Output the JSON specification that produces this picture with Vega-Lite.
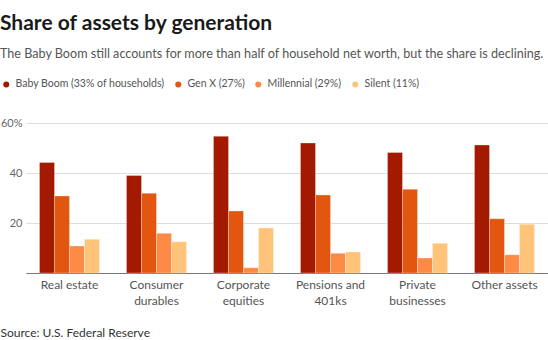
{
  "$schema": "https://vega.github.io/schema/vega-lite/v6.json",
  "width": 522,
  "height": 150,
  "autosize": {"type": "none"},
  "padding": {"left": 26, "top": 123, "right": 0, "bottom": 67},
  "background": "white",
  "title": {
    "text": "Share of assets by generation",
    "subtitle": "The Baby Boom still accounts for more than half of household net worth, but the share is declining.",
    "anchor": "start",
    "frame": "group",
    "dx": -26,
    "offset": 18,
    "font": "Lato",
    "fontSize": 21,
    "fontWeight": "bold",
    "color": "#1a1a1a",
    "subtitleFont": "Lato",
    "subtitleFontSize": 12.6,
    "subtitleColor": "#555555",
    "subtitlePadding": 14
  },
  "data": {
    "values": [
      {"asset": "Real estate", "gen": "Baby Boom (33% of households)", "share": 44.2},
      {"asset": "Real estate", "gen": "Gen X (27%)", "share": 30.8},
      {"asset": "Real estate", "gen": "Millennial (29%)", "share": 10.8},
      {"asset": "Real estate", "gen": "Silent (11%)", "share": 13.5},
      {"asset": "Consumer durables", "gen": "Baby Boom (33% of households)", "share": 39.0},
      {"asset": "Consumer durables", "gen": "Gen X (27%)", "share": 31.9},
      {"asset": "Consumer durables", "gen": "Millennial (29%)", "share": 15.9},
      {"asset": "Consumer durables", "gen": "Silent (11%)", "share": 12.5},
      {"asset": "Corporate equities", "gen": "Baby Boom (33% of households)", "share": 54.7},
      {"asset": "Corporate equities", "gen": "Gen X (27%)", "share": 24.8},
      {"asset": "Corporate equities", "gen": "Millennial (29%)", "share": 2.1},
      {"asset": "Corporate equities", "gen": "Silent (11%)", "share": 18.0},
      {"asset": "Pensions and 401ks", "gen": "Baby Boom (33% of households)", "share": 52.0},
      {"asset": "Pensions and 401ks", "gen": "Gen X (27%)", "share": 31.2},
      {"asset": "Pensions and 401ks", "gen": "Millennial (29%)", "share": 7.9},
      {"asset": "Pensions and 401ks", "gen": "Silent (11%)", "share": 8.4},
      {"asset": "Private businesses", "gen": "Baby Boom (33% of households)", "share": 48.2},
      {"asset": "Private businesses", "gen": "Gen X (27%)", "share": 33.5},
      {"asset": "Private businesses", "gen": "Millennial (29%)", "share": 6.0},
      {"asset": "Private businesses", "gen": "Silent (11%)", "share": 11.9},
      {"asset": "Other assets", "gen": "Baby Boom (33% of households)", "share": 51.2},
      {"asset": "Other assets", "gen": "Gen X (27%)", "share": 21.7},
      {"asset": "Other assets", "gen": "Millennial (29%)", "share": 7.3},
      {"asset": "Other assets", "gen": "Silent (11%)", "share": 19.5}
    ]
  },
  "mark": {"type": "bar", "stroke": "white", "strokeWidth": 0.6, "strokeOpacity": 0.5},
  "encoding": {
    "x": {
      "field": "asset",
      "type": "nominal",
      "sort": ["Real estate", "Consumer durables", "Corporate equities", "Pensions and 401ks", "Private businesses", "Other assets"],
      "scale": {"paddingInner": 0.31, "paddingOuter": 0.155},
      "axis": {
        "labelAngle": 0,
        "labelExpr": "datum.label == 'Consumer durables' ? ['Consumer', 'durables'] : datum.label == 'Corporate equities' ? ['Corporate', 'equities'] : datum.label == 'Pensions and 401ks' ? ['Pensions and', '401ks'] : datum.label == 'Private businesses' ? ['Private', 'businesses'] : datum.label",
        "labelFont": "Lato",
        "labelFontSize": 12,
        "labelColor": "#555555",
        "labelLineHeight": 16,
        "labelPadding": 6,
        "ticks": false,
        "domainColor": "#777777",
        "domainWidth": 1.2,
        "title": "Source: U.S. Federal Reserve",
        "titleFont": "Lato",
        "titleFontSize": 12,
        "titleFontWeight": "normal",
        "titleColor": "#333333",
        "titleAnchor": "start",
        "titleAlign": "left",
        "titleBaseline": "alphabetic",
        "titleX": -26,
        "titleY": 63
      }
    },
    "xOffset": {
      "field": "gen",
      "type": "nominal",
      "sort": ["Baby Boom (33% of households)", "Gen X (27%)", "Millennial (29%)", "Silent (11%)"],
      "scale": {"paddingInner": 0, "paddingOuter": 0}
    },
    "y": {
      "field": "share",
      "type": "quantitative",
      "scale": {"domain": [0, 60]},
      "axis": {
        "values": [0, 20, 40, 60],
        "labelExpr": "datum.value == 0 ? '' : datum.value == 60 ? '60%' : datum.label",
        "labelFont": "Lato",
        "labelFontSize": 11,
        "labelColor": "#666666",
        "labelPadding": 4,
        "ticks": false,
        "domain": false,
        "gridColor": "#dddddd",
        "gridWidth": 1.2,
        "title": null
      }
    },
    "color": {
      "field": "gen",
      "type": "nominal",
      "sort": ["Baby Boom (33% of households)", "Gen X (27%)", "Millennial (29%)", "Silent (11%)"],
      "scale": {
        "domain": ["Baby Boom (33% of households)", "Gen X (27%)", "Millennial (29%)", "Silent (11%)"],
        "range": ["#a31a00", "#e3560f", "#fd8b45", "#ffc47a"]
      },
      "legend": {
        "orient": "none",
        "direction": "horizontal",
        "legendX": -25,
        "legendY": -44,
        "title": null,
        "symbolType": "circle",
        "symbolSize": 36,
        "symbolStrokeWidth": 0,
        "labelFont": "Lato",
        "labelFontSize": 10.5,
        "labelColor": "#555555",
        "labelLimit": 0,
        "labelOffset": 4,
        "columnPadding": 8
      }
    }
  },
  "config": {
    "view": {"stroke": null}
  }
}
